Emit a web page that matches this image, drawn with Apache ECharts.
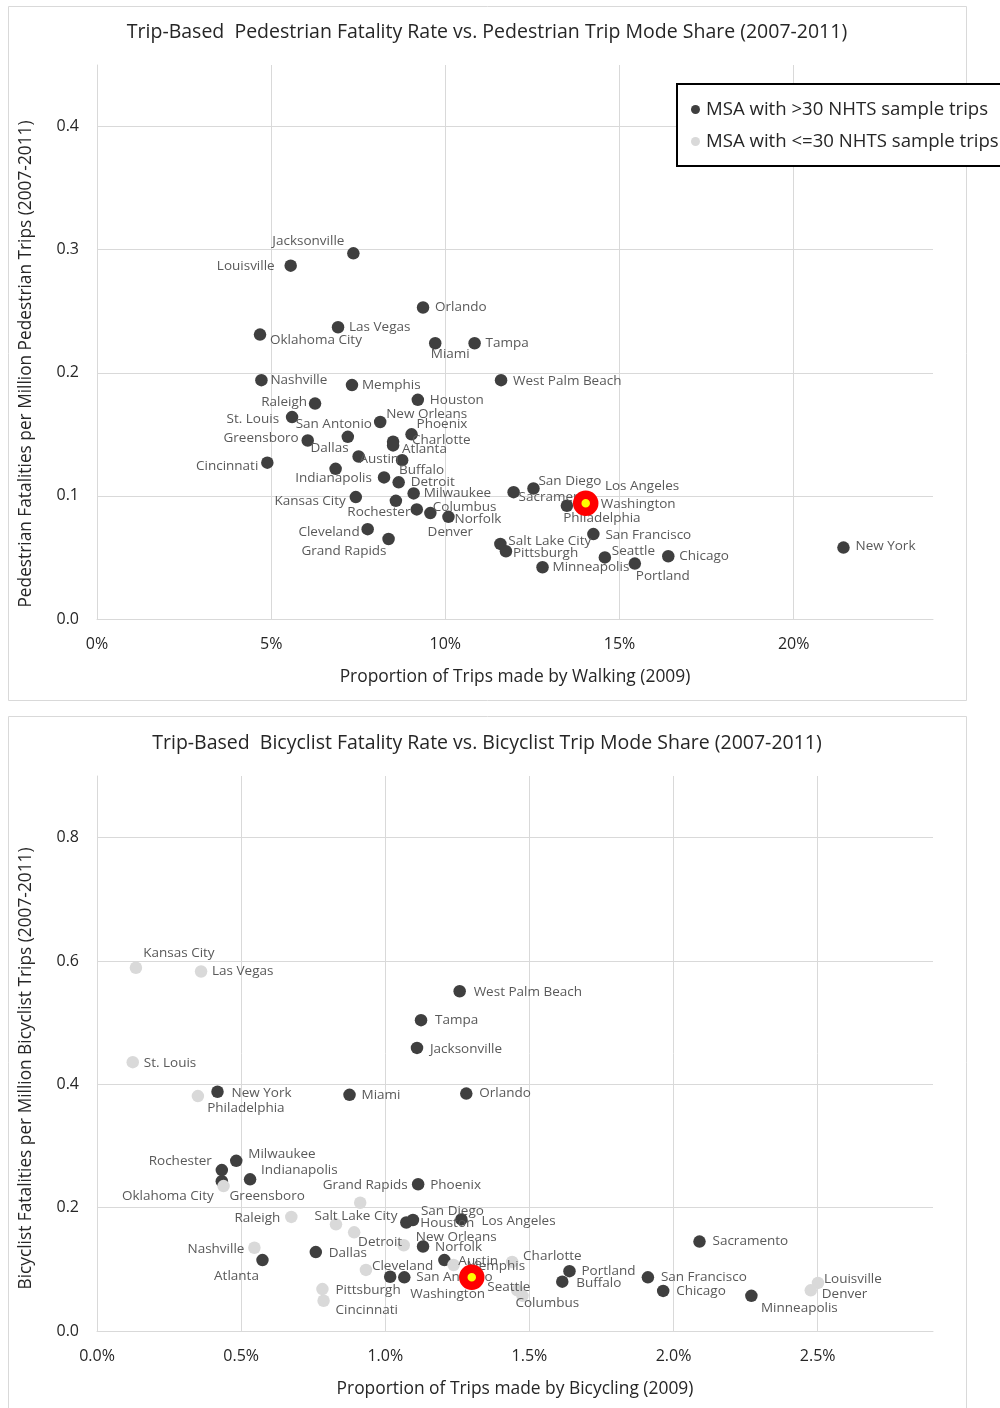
<!DOCTYPE html>
<html>
<head>
<meta charset="utf-8">
<title>Trip-Based Fatality Rate vs. Trip Mode Share</title>
<script src="https://cdn.jsdelivr.net/npm/echarts@6/dist/echarts.min.js"></script>
<style>
  html, body { margin: 0; padding: 0; background: #fff; }
  #chart { width: 1000px; height: 1408px; }
</style>
</head>
<body>
<div id="chart"></div>
<script>
// metro areas (same order in every array below)
const cities = ['Jacksonville', 'Louisville', 'Orlando', 'Las Vegas', 'Oklahoma City', 'Miami', 'Tampa',
  'Nashville', 'Memphis', 'West Palm Beach', 'Houston', 'Raleigh', 'St. Louis', 'New Orleans', 'San Antonio',
  'Phoenix', 'Charlotte', 'Atlanta', 'Greensboro', 'Dallas', 'Indianapolis', 'Austin', 'Buffalo', 'Detroit',
  'Milwaukee', 'Kansas City', 'Rochester', 'Columbus', 'Denver', 'Norfolk', 'Cleveland', 'Grand Rapids',
  'Cincinnati', 'San Diego', 'Sacramento', 'Los Angeles', 'Washington', 'Philadelphia', 'Salt Lake City',
  'Pittsburgh', 'San Francisco', 'Minneapolis', 'Seattle', 'Portland', 'Chicago', 'New York']

// walking share of trips (%, 2009)
const walkShare = [7.36, 5.56, 9.36, 6.92, 4.68, 9.71, 10.84, 4.72, 7.32, 11.60, 9.21, 6.26, 5.60, 8.13, 7.20,
  9.03, 8.50, 8.50, 6.05, 7.51, 6.85, 8.76, 8.24, 8.66, 9.09, 7.43, 8.58, 9.18, 9.57, 10.09, 7.77, 8.37,
  4.89, 12.53, 11.96, 13.95, 14.03, 13.49, 11.58, 11.74, 14.25, 12.79, 14.58, 15.44, 16.40, 21.43]
// pedestrian fatalities per million pedestrian trips
const pedRate = [0.297, 0.287, 0.253, 0.237, 0.231, 0.224, 0.224, 0.194, 0.190, 0.194, 0.178, 0.175, 0.164,
  0.160, 0.148, 0.150, 0.144, 0.141, 0.145, 0.132, 0.122, 0.129, 0.115, 0.111, 0.102, 0.099, 0.096, 0.089,
  0.086, 0.083, 0.073, 0.065, 0.127, 0.106, 0.103, 0.098, 0.094, 0.092, 0.061, 0.055, 0.069, 0.042, 0.050,
  0.045, 0.051, 0.058]

// bicycling share of trips (%, 2009)
const bikeShare = [1.110, 2.501, 1.281, 0.361, 0.433, 0.876, 1.124, 0.546, 1.237, 1.258, 1.073, 0.674, 0.124,
  1.064, 1.066, 1.114, 1.440, 0.574, 0.439, 0.759, 0.531, 1.205, 1.614, 0.892, 0.483, 0.135, 0.433, 1.476,
  2.476, 1.131, 0.933, 0.913, 0.786, 1.096, 2.090, 1.264, 1.017, 0.350, 0.829, 0.782, 1.911, 2.270, 1.458,
  1.639, 1.964, 0.418]
// bicyclist fatalities per million bicyclist trips
const bikeRate = [0.459, 0.078, 0.385, 0.583, 0.243, 0.383, 0.504, 0.135, 0.107, 0.551, 0.176, 0.185, 0.436,
  0.139, 0.087, 0.238, 0.112, 0.115, 0.235, 0.128, 0.246, 0.115, 0.080, 0.160, 0.276, 0.589, 0.261, 0.057,
  0.066, 0.137, 0.099, 0.208, 0.049, 0.180, 0.145, 0.181, 0.088, 0.381, 0.173, 0.068, 0.087, 0.057, 0.066,
  0.097, 0.065, 0.388]

// MSAs with <=30 NHTS bicycle sample trips
const lowSampleBike = ['Kansas City', 'Las Vegas', 'St. Louis', 'Philadelphia', 'Greensboro', 'Grand Rapids',
  'Raleigh', 'Salt Lake City', 'Detroit', 'New Orleans', 'Nashville', 'Cleveland', 'Pittsburgh', 'Cincinnati',
  'Memphis', 'Charlotte', 'Seattle', 'Columbus', 'Louisville', 'Denver']

// highlighted study area [share %, rate]
const pedHighlight = [14.03, 0.094]
const bikeHighlight = [1.30, 0.087]

// label placement: [dx, dy, align] relative to the marker
const pedLabelPos = {
  'Jacksonville': [-45, -12, 'center'], 'Louisville': [-16, 0, 'right'], 'Orlando': [12, 0, 'left'],
  'Las Vegas': [11, 0, 'left'], 'Oklahoma City': [10, 6, 'left'], 'Miami': [15, 11, 'center'],
  'Tampa': [11, 0, 'left'], 'Nashville': [9, 0, 'left'], 'Memphis': [10, 0, 'left'],
  'West Palm Beach': [12, 1, 'left'], 'Houston': [12, 0, 'left'], 'Raleigh': [-8, -1, 'right'],
  'St. Louis': [-13, 2, 'right'], 'New Orleans': [6, -8, 'left'], 'San Antonio': [-14, -13, 'center'],
  'Phoenix': [5, -10, 'left'], 'Charlotte': [19, -2, 'left'], 'Atlanta': [9, 4, 'left'],
  'Greensboro': [-9, -2, 'right'], 'Dallas': [-10, -8, 'right'], 'Indianapolis': [-2, 9, 'center'],
  'Austin': [-3, -1, 'right'], 'Buffalo': [15, -7, 'left'], 'Detroit': [12, 0, 'left'],
  'Milwaukee': [10, 0, 'left'], 'Kansas City': [-10, 4, 'right'], 'Rochester': [-17, 11, 'center'],
  'Columbus': [16, -2, 'left'], 'Denver': [20, 19, 'center'], 'Norfolk': [6, 2, 'left'],
  'Cleveland': [-8, 3, 'right'], 'Grand Rapids': [-2, 12, 'right'], 'Cincinnati': [-9, 4, 'right'],
  'San Diego': [5, -7, 'left'], 'Sacramento': [5, 5, 'left'], 'Los Angeles': [22, -12, 'left'],
  'Washington': [15, 1, 'left'], 'Philadelphia': [35, 12, 'center'], 'Salt Lake City': [8, -3, 'left'],
  'Pittsburgh': [7, 2, 'left'], 'San Francisco': [12, 1, 'left'], 'Minneapolis': [10, 0, 'left'],
  'Seattle': [7, -6, 'left'], 'Portland': [28, 13, 'center'], 'Chicago': [11, 0, 'left'],
  'New York': [12, -1, 'left']
}
const bikeLabelPos = {
  'Kansas City': [43, -15, 'center'], 'Las Vegas': [11, 0, 'left'], 'St. Louis': [11, 1, 'left'],
  'New York': [14, 1, 'left'], 'Philadelphia': [48, 12, 'center'], 'Miami': [12, 0, 'left'],
  'West Palm Beach': [14, 1, 'left'], 'Tampa': [14, 0, 'left'], 'Jacksonville': [13, 1, 'left'],
  'Orlando': [13, 0, 'left'], 'Rochester': [-10, -9, 'right'], 'Milwaukee': [12, -7, 'left'],
  'Indianapolis': [11, -9, 'left'], 'Oklahoma City': [-8, 15, 'right'], 'Greensboro': [6, 10, 'left'],
  'Grand Rapids': [5, -18, 'center'], 'Phoenix': [12, 1, 'left'], 'Raleigh': [-11, 1, 'right'],
  'Salt Lake City': [20, -8, 'center'], 'Detroit': [26, 10, 'center'], 'New Orleans': [12, -8, 'left'],
  'Norfolk': [12, 1, 'left'], 'Nashville': [-10, 1, 'right'], 'Atlanta': [-26, 16, 'center'],
  'Dallas': [13, 1, 'left'], 'Cleveland': [6, -4, 'left'], 'Washington': [20, 17, 'left'],
  'San Antonio': [12, 0, 'left'], 'Pittsburgh': [13, 1, 'left'], 'Cincinnati': [12, 9, 'left'],
  'San Diego': [8, -9, 'left'], 'Houston': [14, 1, 'left'], 'Los Angeles': [20, 2, 'left'],
  'Austin': [14, 1, 'left'], 'Memphis': [13, 1, 'left'], 'Charlotte': [11, -6, 'left'],
  'Seattle': [-30, -3, 'left'], 'Columbus': [-7, 7, 'left'], 'Portland': [12, 0, 'left'],
  'Buffalo': [14, 1, 'left'], 'San Francisco': [13, 0, 'left'], 'Chicago': [13, 0, 'left'],
  'Sacramento': [13, 0, 'left'], 'Minneapolis': [48, 12, 'center'], 'Louisville': [6, -4, 'left'],
  'Denver': [11, 4, 'left']
}

const FONT = '"Open Sans", "Noto Sans", sans-serif'
const DARK = '#3f3f3f'
const LIGHT = '#d9d9d9'
const GRID = '#d9d9d9'
const TEXT = '#595959'
const INK = '#262626'
const NAME_HI = 'MSA with >30 NHTS sample trips'
const NAME_LO = 'MSA with <=30 NHTS sample trips'

const buildPoints = (xs, ys, labelPos, keep) => {
  const out = []
  cities.forEach((c, i) => {
    if (!keep(c)) return
    const p = labelPos[c] || [10, 0, 'left']
    out.push({
      name: c,
      value: [xs[i], ys[i]],
      label: { offset: [p[0], p[1]], align: p[2] }
    })
  })
  return out
}

const pointLabel = {
  show: true,
  position: 'inside',
  formatter: '{b}',
  color: TEXT,
  fontFamily: FONT,
  fontSize: 13.5,
  verticalAlign: 'middle',
  textBorderWidth: 0
}

const valueAxisBase = {
  type: 'value',
  axisTick: { show: false },
  axisLine: { show: true, lineStyle: { color: GRID, width: 1 } },
  splitLine: { show: true, showMaxLine: false, lineStyle: { color: GRID, width: 1 } },
  nameLocation: 'middle',
  nameTextStyle: { fontFamily: FONT, fontSize: 17.4, color: INK }
}

const tickLabel = { showMaxLabel: false, fontFamily: FONT, fontSize: 16, color: INK }

const chart = echarts.init(document.getElementById('chart'), null, { renderer: 'canvas' })

const option = {
  backgroundColor: '#fff',
  animation: false,
  textStyle: { fontFamily: FONT },
  title: [
    {
      text: 'Trip-Based  Pedestrian Fatality Rate vs. Pedestrian Trip Mode Share (2007-2011)',
      left: 482, top: 17, textAlign: 'center',
      textStyle: { fontFamily: FONT, fontSize: 19.5, fontWeight: 'normal', color: INK }
    },
    {
      text: 'Trip-Based  Bicyclist Fatality Rate vs. Bicyclist Trip Mode Share (2007-2011)',
      left: 482, top: 728, textAlign: 'center',
      textStyle: { fontFamily: FONT, fontSize: 19.5, fontWeight: 'normal', color: INK }
    }
  ],
  graphic: [
    { type: 'rect', shape: { x: 8.5, y: 6.5, width: 958, height: 694 }, style: { fill: 'none', stroke: '#d9d9d9', lineWidth: 1 }, z: -1 },
    { type: 'rect', shape: { x: 8.5, y: 716.5, width: 958, height: 700 }, style: { fill: 'none', stroke: '#d9d9d9', lineWidth: 1 }, z: -1 }
  ],
  legend: {
    data: [
      { name: NAME_HI, itemStyle: { color: DARK } },
      { name: NAME_LO, itemStyle: { color: LIGHT } }
    ],
    orient: 'vertical',
    left: 677, top: 84,
    padding: [15, 40, 14, 14],
    itemWidth: 11, itemHeight: 9, itemGap: 11,
    icon: 'circle',
    borderColor: '#000', borderWidth: 2,
    backgroundColor: '#fff',
    selectedMode: false,
    textStyle: { fontFamily: FONT, fontSize: 18.6, color: INK, lineHeight: 21 }
  },
  grid: [
    { left: 97, right: 67, top: 65, height: 554 },
    { left: 97, right: 67, top: 776, height: 555 }
  ],
  xAxis: [
    Object.assign({}, valueAxisBase, {
      gridIndex: 0, min: 0, max: 24, interval: 5,
      name: 'Proportion of Trips made by Walking (2009)', nameGap: 50,
      axisLabel: Object.assign({ margin: 17, formatter: v => v + '%' }, tickLabel)
    }),
    Object.assign({}, valueAxisBase, {
      gridIndex: 1, min: 0, max: 2.9, interval: 0.5,
      name: 'Proportion of Trips made by Bicycling (2009)', nameGap: 50,
      axisLabel: Object.assign({ margin: 17, formatter: v => v.toFixed(1) + '%' }, tickLabel)
    })
  ],
  yAxis: [
    Object.assign({}, valueAxisBase, {
      gridIndex: 0, min: 0, max: 0.45, interval: 0.1,
      name: 'Pedestrian Fatalities per Million Pedestrian Trips (2007-2011)', nameGap: 62,
      nameTextStyle: { fontFamily: FONT, fontSize: 17.3, color: INK, padding: [0, 44, 0, 0] },
      axisLabel: Object.assign({ margin: 18, formatter: v => v.toFixed(1) }, tickLabel)
    }),
    Object.assign({}, valueAxisBase, {
      gridIndex: 1, min: 0, max: 0.9, interval: 0.2,
      name: 'Bicyclist Fatalities per Million Bicyclist Trips (2007-2011)', nameGap: 62,
      nameTextStyle: { fontFamily: FONT, fontSize: 17.3, color: INK, padding: [0, 30, 0, 0] },
      axisLabel: Object.assign({ margin: 18, formatter: v => v.toFixed(1) }, tickLabel)
    })
  ],
  series: [
    {
      name: NAME_HI, type: 'scatter', xAxisIndex: 0, yAxisIndex: 0,
      symbolSize: 12.5, itemStyle: { color: DARK, opacity: 1 },
      label: pointLabel,
      data: buildPoints(walkShare, pedRate, pedLabelPos, () => true)
    },
    {
      name: NAME_HI, type: 'scatter', xAxisIndex: 1, yAxisIndex: 1,
      symbolSize: 12.5, itemStyle: { color: DARK, opacity: 1 },
      label: pointLabel,
      data: buildPoints(bikeShare, bikeRate, bikeLabelPos, c => lowSampleBike.indexOf(c) < 0)
    },
    {
      name: NAME_LO, type: 'scatter', xAxisIndex: 1, yAxisIndex: 1,
      symbolSize: 12.5, itemStyle: { color: LIGHT, opacity: 1 },
      label: pointLabel,
      data: buildPoints(bikeShare, bikeRate, bikeLabelPos, c => lowSampleBike.indexOf(c) >= 0)
    },
    {
      name: 'highlight-ped', type: 'scatter', xAxisIndex: 0, yAxisIndex: 0, z: 5,
      symbolSize: 17, itemStyle: { color: '#ffff00', borderColor: '#ff0000', borderWidth: 8.5, opacity: 1 },
      data: [pedHighlight]
    },
    {
      name: 'highlight-bike', type: 'scatter', xAxisIndex: 1, yAxisIndex: 1, z: 5,
      symbolSize: 17, itemStyle: { color: '#ffff00', borderColor: '#ff0000', borderWidth: 8.5, opacity: 1 },
      data: [bikeHighlight]
    }
  ]
}

chart.setOption(option)
</script>
</body>
</html>
